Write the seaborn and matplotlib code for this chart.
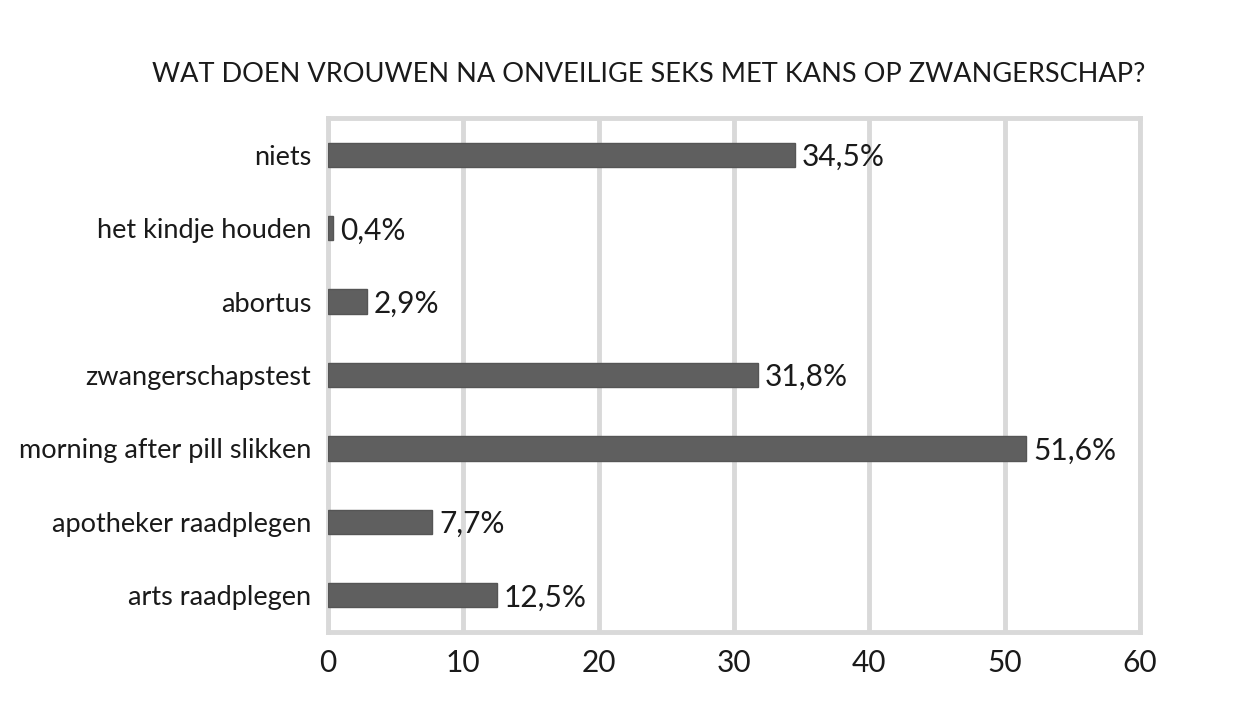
import seaborn as sns
import matplotlib.pyplot as plt
import pandas as pd

categories = ["niets", "het kindje houden", "abortus", "zwangerschapstest",
              "morning after pill slikken", "apotheker raadplegen", "arts raadplegen"]
values = [34.5, 0.4, 2.9, 31.8, 51.6, 7.7, 12.5]
labels = ["34,5%", "0,4%", "2,9%", "31,8%", "51,6%", "7,7%", "12,5%"]
xticks = [0, 10, 20, 30, 40, 50, 60]
title = "WAT DOEN VROUWEN NA ONVEILIGE SEKS MET KANS OP ZWANGERSCHAP?"

df = pd.DataFrame({"cat": categories, "val": values})

sns.set_style("white")
plt.rcParams['font.family'] = ['Lato', 'DejaVu Sans']

fig = plt.figure(figsize=(12.41, 7.16), dpi=100)
ax = fig.add_axes([328 / 1241, 1 - 632 / 716, (1140 - 328) / 1241, (632 - 118) / 716])

sns.barplot(data=df, x="val", y="cat", order=categories, color="#5f5f5f", saturation=1,
            width=0.33, edgecolor="#555555", linewidth=1, ax=ax, zorder=3)

for i, (v, lab) in enumerate(zip(values, labels)):
    ax.text(v + 0.5, i + 0.03, lab, va="center", ha="left", fontsize=21.5, color="#1a1a1a", zorder=4)

ax.set_xlim(0, 60)
ax.set_ylim(6.5, -0.5)
ax.set_xticks(xticks)
ax.set_xticklabels([str(t) for t in xticks], fontsize=21.5, color="#1a1a1a")
ax.tick_params(axis="y", labelsize=19.5, colors="#1a1a1a", length=0, pad=12)
ax.tick_params(axis="x", length=0, pad=12)
for t in ax.get_yticklabels():
    t.set_y(t.get_position()[1])
ax.set_xlabel("")
ax.set_ylabel("")
ax.grid(axis="x", color="#d9d9d9", linewidth=3.5, zorder=0)
ax.grid(axis="y", visible=False)
for s in ax.spines.values():
    s.set_color("#d9d9d9")
    s.set_linewidth(3.5)

fig.text(649 / 1241, 1 - 75 / 716, title, ha="center", va="center", fontsize=19.5, color="#1a1a1a")

fig.savefig("out.png", dpi=100, facecolor="white")
